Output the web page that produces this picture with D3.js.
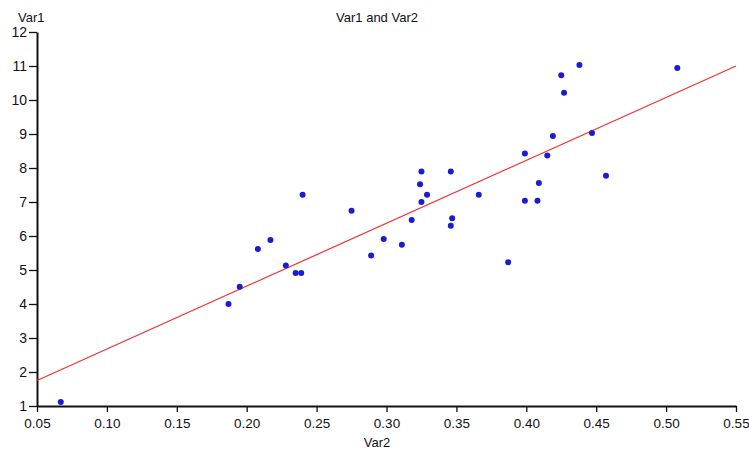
<!DOCTYPE html>
<html>
<head>
<meta charset="utf-8">
<script src="https://cdn.jsdelivr.net/npm/d3@7"></script>
<style>
  body { margin: 0; background: #fff; }
  svg { display: block; }
  text { font-family: "Liberation Sans", Arial, sans-serif; fill: #111; }
</style>
</head>
<body>
<div id="chart"></div>
<script>
// data
var var2 = [0.067, 0.187, 0.195, 0.208, 0.217, 0.228, 0.235, 0.239, 0.240, 0.275,
            0.289, 0.298, 0.311, 0.318, 0.324, 0.325, 0.329, 0.325, 0.346, 0.347,
            0.346, 0.366, 0.387, 0.399, 0.408, 0.409, 0.399, 0.415, 0.419, 0.447,
            0.457, 0.425, 0.427, 0.438, 0.508];
var var1 = [1.12, 4.0, 4.51, 5.62, 5.88, 5.13, 4.91, 4.91, 7.21, 6.74,
            5.43, 5.91, 5.74, 6.47, 7.52, 7.90, 7.21, 7.0, 7.90, 6.52,
            6.30, 7.21, 5.23, 7.04, 7.04, 7.56, 8.43, 8.37, 8.94, 9.03,
            7.77, 10.73, 10.21, 11.03, 10.94];
var fitX = [0.05, 0.55];
var fitY = [1.75, 11.0];
var xTicks = [0.05, 0.10, 0.15, 0.20, 0.25, 0.30, 0.35, 0.40, 0.45, 0.50, 0.55];
var yTicks = [1, 2, 3, 4, 5, 6, 7, 8, 9, 10, 11, 12];

var width = 749, height = 450;
var margin = { left: 37, right: 13, top: 32, bottom: 44 };

var svg = d3.select("#chart").append("svg")
    .attr("width", width)
    .attr("height", height);

var x = d3.scaleLinear().domain([0.05, 0.55]).range([margin.left, width - margin.right]);
var y = d3.scaleLinear().domain([1, 12]).range([height - margin.bottom, margin.top]);

// axes
var xAxis = svg.append("g")
    .attr("transform", "translate(0," + (height - margin.bottom) + ")")
    .call(d3.axisBottom(x).tickValues(xTicks).tickFormat(d3.format(".2f")).tickSize(6).tickSizeOuter(0));
var yAxis = svg.append("g")
    .attr("transform", "translate(" + margin.left + ",0)")
    .call(d3.axisLeft(y).tickValues(yTicks).tickSize(8).tickSizeOuter(0));

[xAxis, yAxis].forEach(function(g) {
    g.select(".domain").attr("stroke", "#111").attr("stroke-width", 2);
    g.selectAll(".tick line").attr("stroke", "#111").attr("stroke-width", 1.3);
    g.selectAll(".tick text").style("font-size", "13px").attr("fill", "#111");
});
xAxis.selectAll(".tick text").attr("dy", "0.95em").style("font-size", "13.5px");
yAxis.selectAll(".tick text").attr("x", -10).style("font-size", "14px");

// fitted line
svg.append("line")
    .attr("x1", x(fitX[0])).attr("y1", y(fitY[0]))
    .attr("x2", x(fitX[1])).attr("y2", y(fitY[1]))
    .attr("stroke", "#f03030")
    .attr("stroke-width", 1.2);

// points
svg.selectAll(".pt")
    .data(var2.map(function(d, i) { return [d, var1[i]]; }))
    .enter().append("circle")
    .attr("class", "pt")
    .attr("cx", function(d) { return x(d[0]); })
    .attr("cy", function(d) { return y(d[1]); })
    .attr("r", 3)
    .attr("fill", "#1c1ccf");

// titles
svg.append("text")
    .attr("x", 377).attr("y", 22)
    .attr("text-anchor", "middle")
    .style("font-size", "13px")
    .text("Var1 and Var2");
svg.append("text")
    .attr("x", 18).attr("y", 22)
    .style("font-size", "13px")
    .text("Var1");
svg.append("text")
    .attr("x", 377).attr("y", 447)
    .attr("text-anchor", "middle")
    .style("font-size", "13px")
    .text("Var2");
</script>
</body>
</html>
